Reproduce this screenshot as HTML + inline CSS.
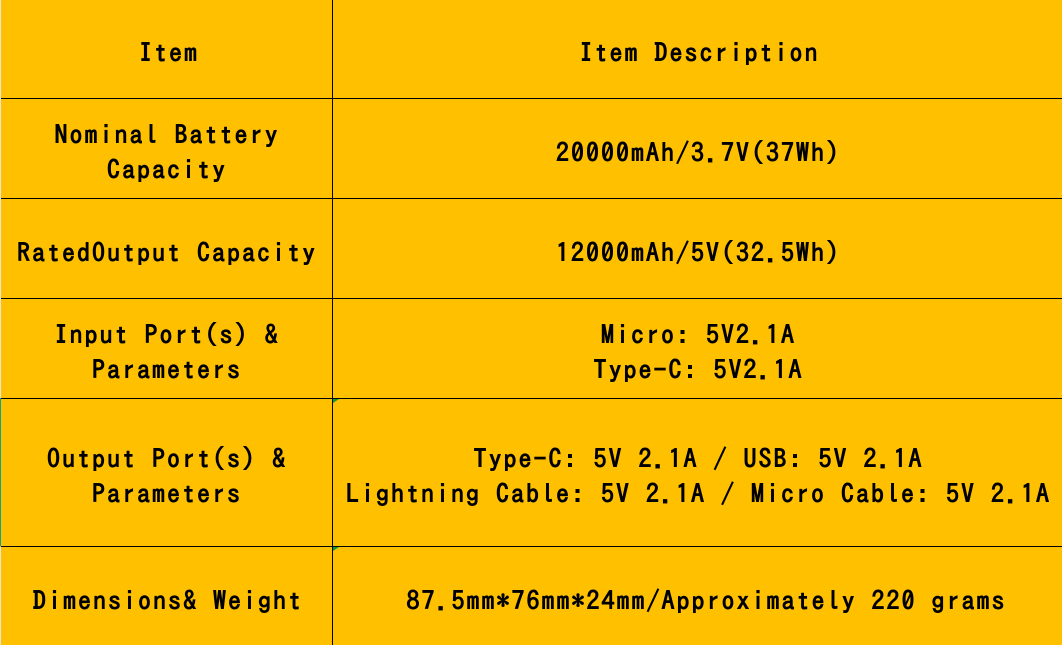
<!DOCTYPE html>
<html><head><meta charset="utf-8"><style>
html,body{margin:0;padding:0}
body{width:1062px;height:645px;background:#ffc000;position:relative;overflow:hidden}
.l{position:absolute;background:#000}
.t{position:absolute;white-space:pre;text-align:center;font:bold 26px/35px "IPAGothic","Liberation Mono",monospace;letter-spacing:2px;color:#000}
.a{left:1px;width:332px}
.b{left:333px;width:729px}
</style></head><body>
<div style="position:absolute;left:0;top:0;width:1px;height:398px;background:#e8e4d8"></div>
<div style="position:absolute;left:0;top:398px;width:1px;height:148px;background:#10a878"></div>
<div style="position:absolute;left:0;top:547px;width:1px;height:98px;background:#e8e4d8"></div>
<div class="l" style="left:332px;top:0;width:1px;height:645px"></div>
<div class="l" style="left:1px;top:98px;width:1061px;height:1px"></div>
<div class="l" style="left:1px;top:198px;width:1061px;height:1px"></div>
<div class="l" style="left:1px;top:298px;width:1061px;height:1px"></div>
<div class="l" style="left:1px;top:398px;width:1061px;height:1px"></div>
<div class="l" style="left:1px;top:546px;width:1061px;height:1px"></div>
<svg style="position:absolute;left:333px;top:399px" width="6" height="4"><polygon points="0,0 6,0 0,4" fill="#109a30"/></svg>
<svg style="position:absolute;left:333px;top:547px" width="6" height="4"><polygon points="0,0 6,0 0,4" fill="#109a30"/></svg>
<div class="t a" style="top:36px;left:3px">Item</div>
<div class="t b" style="top:36px;left:335px">Item Description</div>
<div class="t a" style="top:118px">Nominal Battery
Capacity</div>
<div class="t b" style="top:136px;left:334px">20000mAh/3.7V(37Wh)</div>
<div class="t a" style="top:236px">RatedOutput Capacity</div>
<div class="t b" style="top:236px;left:334px">12000mAh/5V(32.5Wh)</div>
<div class="t a" style="top:318px">Input Port(s) &amp;
Parameters</div>
<div class="t b" style="top:318px;left:334px">Micro: 5V2.1A
Type-C: 5V2.1A</div>
<div class="t a" style="top:442px">Output Port(s) &amp;
Parameters</div>
<div class="t b" style="top:442px;left:334px">Type-C: 5V 2.1A / USB: 5V 2.1A
Lightning Cable: 5V 2.1A / Micro Cable: 5V 2.1A</div>
<div class="t a" style="top:584px;left:2px">Dimensions&amp; Weight</div>
<div class="t b" style="top:584px;left:342px">87.5mm*76mm*24mm/Approximately 220 grams</div>
</body></html>
